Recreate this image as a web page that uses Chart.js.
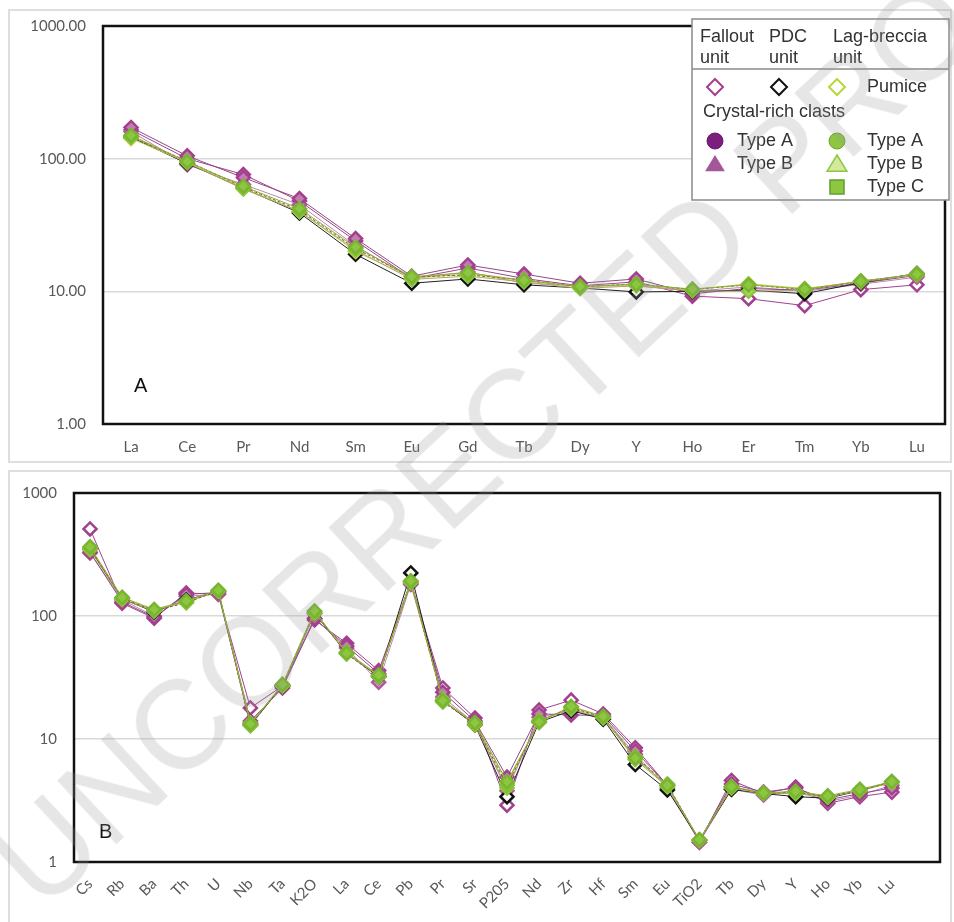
<!DOCTYPE html>
<html>
<head>
<meta charset="utf-8">
<script src="https://cdn.jsdelivr.net/npm/chart.js@4/dist/chart.umd.min.js"></script>
<style>
body { margin:0; background:#fff; width:954px; height:922px; overflow:hidden; position:relative; }
.panel { position:absolute; left:8px; width:940px; border:2px solid #dedede; }
#p1 { top:9px; height:450px; }
#p2 { top:470px; height:470px; }
.box { position:absolute; left:0; width:954px; }
#b1 { top:0; height:465px; }
#b2 { top:465px; height:457px; }
#wm { position:absolute; left:43px; top:807px; white-space:nowrap; font-family:"Liberation Sans", Arial, sans-serif;
      font-size:126px; line-height:126px; color:rgba(150,150,150,0.24); transform-origin:0 107px;
      transform:rotate(-43deg); pointer-events:none; }
</style>
</head>
<body>
<div class="panel" id="p1"></div>
<div class="panel" id="p2"></div>
<div class="box" id="b1"><canvas id="chartA"></canvas></div>
<div class="box" id="b2"><canvas id="chartB"></canvas></div>
<div id="wm">UNCORRECTED PROOF</div>
<script>
// chondrite-normalised REE (panel A)
var reeLabels = ['La','Ce','Pr','Nd','Sm','Eu','Gd','Tb','Dy','Y','Ho','Er','Tm','Yb','Lu'];
var reeFallPumice = [165, 100, 76, 48, 24, 12.5, 15, 12.5, 11, 11.8, 9.2, 8.8, 7.8, 10.3, 11.2];
var reeFallA      = [172, 105, 72, 50, 25, 13, 15.8, 13.5, 11.5, 12.4, 9.6, 10.5, 10.2, 11.5, 13.2];
var reeFallB      = [160, 90, 64, 45, 22, 12.5, 14, 11.5, 11, 11, 10, 10.8, 10, 11.3, 12.8];
var reePdcPumice  = [145, 92, 60, 39, 19, 11.5, 12.4, 11.2, 10.6, 9.9, 10, 10.2, 9.6, 11.6, 13.6];
var reeLagPumice  = [142, 94, 60, 40, 20, 12.6, 13.5, 12, 10.8, 11.2, 10.3, 11.4, 10.5, 11.8, 13.4];
var reeLagA       = [145, 96, 61, 41, 21, 12.8, 13.3, 12.2, 10.8, 11.4, 10.3, 11.2, 10.3, 11.8, 13.6];
var reeLagB       = [148, 93, 59, 40, 20.5, 12.3, 13, 11.8, 10.5, 11, 10.1, 10, 10.2, 12, 13.3];
var reeLagC       = [150, 95, 62, 42, 21.5, 12.9, 13.8, 12.1, 10.9, 11.3, 10.4, 11.2, 10.4, 11.9, 13.5];

// multi-element spider diagram (panel B); last slot is empty
var spLabels = ['Cs','Rb','Ba','Th','U','Nb','Ta','K2O','La','Ce','Pb','Pr','Sr','P205','Nd','Zr','Hf','Sm','Eu','TiO2','Tb','Dy','Y','Ho','Yb','Lu',''];
var spFallPumice = [510, 127, 96, 154, 150, 17.9, 27, 93, 60, 36, 190, 26, 14.8, 2.9, 17.2, 20.7, 16, 8.5, 4.2, 1.45, 4.6, 3.6, 4.07, 3.0, 3.4, 3.7];
var spFallA      = [330, 130, 98, 150, 155, 14, 26, 95, 57, 34, 185, 24, 14, 4.9, 16, 15.7, 15.5, 8, 4.2, 1.5, 4.3, 3.7, 4.0, 3.2, 3.6, 4.0];
var spFallB      = [325, 135, 100, 145, 150, 13.5, 27, 96, 55, 29, 180, 22, 13.3, 3.8, 15, 17, 15, 7.5, 4.0, 1.45, 3.9, 3.5, 3.8, 3.1, 3.5, 4.2];
var spPdcPumice  = [350, 138, 108, 135, 158, 13, 27, 105, 50, 32, 224, 20.5, 13, 3.4, 13.7, 17, 14.5, 6.2, 3.85, 1.5, 3.9, 3.6, 3.4, 3.3, 3.8, 4.5];
var spLagPumice  = [360, 140, 112, 130, 160, 13.2, 27.5, 108, 50, 32.6, 189, 20.4, 13.5, 4.4, 13.7, 18.2, 15.1, 7.0, 4.2, 1.5, 4.07, 3.64, 3.7, 3.4, 3.85, 4.47];
var spLagA       = [355, 140, 110, 128, 160, 12.8, 27.5, 108, 49, 32, 192, 20, 13.2, 4.2, 14, 18, 15, 7.2, 4.3, 1.5, 4.1, 3.6, 3.7, 3.4, 3.8, 4.5];
var spLagB       = [345, 136, 110, 132, 158, 13.5, 27, 105, 51, 33, 186, 21, 13.0, 4.0, 14.2, 17.5, 14.8, 6.8, 4.1, 1.5, 4.0, 3.6, 3.6, 3.35, 3.8, 4.4];
var spLagC       = [365, 142, 113, 133, 162, 13.3, 27.8, 110, 50, 33, 193, 20.5, 13.6, 4.5, 13.8, 18.4, 15.3, 7.0, 4.2, 1.52, 4.1, 3.65, 3.75, 3.45, 3.9, 4.5];

var yTicks = [1, 10, 100, 1000];

var MAG = '#a3408e', PUR = '#7b1f7f', GRN = '#8dc63f', YGR = '#b9d63a';

// first in list is drawn on top
function sets(lagC, lagA, lagB, lagP, pdcP, fallA, fallB, fallP) {
  function ds(data, line, fill, border, dash) {
    return { data: data, borderColor: line, borderWidth: 1, borderDash: dash || [],
      pointStyle: 'rectRot', pointRadius: 6.5, pointBorderWidth: 2.5,
      pointBackgroundColor: fill, pointBorderColor: border, tension: 0 };
  }
  return [
    ds(lagC, '#8fae3c', GRN, '#79b432'),
    ds(lagA, '#6d6a2c', GRN, '#86c03a', [3, 2]),
    ds(lagB, '#b4a46a', '#a9d45a', '#8dc63f'),
    ds(lagP, YGR, '#ffffff', YGR),
    ds(pdcP, '#222222', '#ffffff', '#111111'),
    ds(fallA, '#8c4a84', '#c27cb2', MAG),
    ds(fallB, '#b98ab0', '#d3a4c8', '#b05a9c'),
    ds(fallP, MAG, '#ffffff', MAG)
  ];
}

var frame = {
  id: 'frame',
  beforeDatasetsDraw: function (chart) {
    var a = chart.chartArea, c = chart.ctx;
    c.save();
    c.strokeStyle = '#111';
    c.lineWidth = 2.5;
    c.strokeRect(a.left, a.top, a.right - a.left, a.bottom - a.top);
    var o = chart.options.plugins.frame;
    c.fillStyle = '#111';
    c.font = '20px "Liberation Sans", Arial, sans-serif';
    c.textBaseline = 'middle';
    c.fillText(o.letter, a.left + o.dx, a.bottom - o.dy);
    c.restore();
  }
};

function shape(c, kind, x, y, r, fill, stroke, lw) {
  c.beginPath();
  if (kind === 'diamond') { c.moveTo(x, y - r); c.lineTo(x + r, y); c.lineTo(x, y + r); c.lineTo(x - r, y); c.closePath(); }
  else if (kind === 'circle') c.arc(x, y, r, 0, Math.PI * 2);
  else if (kind === 'triangle') { c.moveTo(x, y - r); c.lineTo(x + r * 1.1, y + r * 0.8); c.lineTo(x - r * 1.1, y + r * 0.8); c.closePath(); }
  else c.rect(x - r, y - r, 2 * r, 2 * r);
  if (fill) { c.fillStyle = fill; c.fill(); }
  if (stroke) { c.strokeStyle = stroke; c.lineWidth = lw; c.stroke(); }
}

var legendBox = {
  id: 'legendBox',
  afterDraw: function (chart) {
    var c = chart.ctx;
    c.save();
    c.fillStyle = '#fff';
    c.fillRect(692, 19, 257, 181);
    c.strokeStyle = '#8a8a8a';
    c.lineWidth = 1.5;
    c.strokeRect(692, 19, 257, 181);
    c.beginPath(); c.moveTo(692, 69); c.lineTo(949, 69); c.stroke();
    c.fillStyle = '#333';
    c.font = '18px "Liberation Sans", Arial, sans-serif';
    c.textBaseline = 'middle';
    c.fillText('Fallout', 700, 37); c.fillText('unit', 700, 58);
    c.fillText('PDC', 769, 37); c.fillText('unit', 769, 58);
    c.fillText('Lag-breccia', 833, 37); c.fillText('unit', 833, 58);
    shape(c, 'diamond', 715, 87, 8, '#fff', MAG, 2);
    shape(c, 'diamond', 779, 87, 8, '#fff', '#111', 2);
    shape(c, 'diamond', 837, 87, 8, '#fff', YGR, 2);
    c.fillStyle = '#333';
    c.fillText('Pumice', 867, 87);
    c.fillText('Crystal-rich clasts', 703, 112);
    shape(c, 'circle', 715, 141, 8, PUR, '#6a1a6c', 1);
    shape(c, 'circle', 837, 141, 8, GRN, '#6fa52c', 1);
    shape(c, 'triangle', 715, 164, 9, '#a3579a', null, 0);
    shape(c, 'triangle', 837, 164, 9, '#d4e89e', GRN, 1.5);
    shape(c, 'square', 837, 187, 7, GRN, '#5e9e2e', 1.5);
    c.fillStyle = '#333';
    c.fillText('Type A', 737, 141); c.fillText('Type A', 867, 141);
    c.fillText('Type B', 737, 164); c.fillText('Type B', 867, 164);
    c.fillText('Type C', 867, 187);
    c.restore();
  }
};

function opts(yw, xh, pad, fmt, rot, xpad, letter, dx, dy) {
  return {
    responsive: true, maintainAspectRatio: false, animation: false,
    layout: { padding: pad },
    plugins: { legend: { display: false }, tooltip: { enabled: false },
      frame: { letter: letter, dx: dx, dy: dy } },
    scales: {
      x: {
        offset: true,
        grid: { display: false, drawTicks: false },
        border: { display: false },
        ticks: { color: '#595959', font: { family: 'Lato', size: 15 }, autoSkip: false,
          minRotation: rot, maxRotation: rot, padding: xpad },
        afterFit: function (s) { s.height = xh; }
      },
      y: {
        type: 'logarithmic', min: 1, max: 1000,
        grid: { color: '#d9d9d9', lineWidth: 1.5, drawTicks: false },
        border: { display: false },
        ticks: { color: '#595959', font: { family: 'Lato', size: 15 }, padding: 17, callback: fmt },
        afterBuildTicks: function (s) { s.ticks = yTicks.map(function (v) { return { value: v }; }); },
        afterFit: function (s) { s.width = yw; }
      }
    }
  };
}

new Chart(document.getElementById('chartA'), {
  type: 'line',
  data: { labels: reeLabels,
    datasets: sets(reeLagC, reeLagA, reeLagB, reeLagPumice, reePdcPumice, reeFallA, reeFallB, reeFallPumice) },
  options: opts(103, 41, { top: 23, right: 9, left: 0, bottom: 0 },
    function (v) { return Number(v).toFixed(2); }, 0, 14, 'A', 31, 38),
  plugins: [frame, legendBox]
});

new Chart(document.getElementById('chartB'), {
  type: 'line',
  data: { labels: spLabels,
    datasets: sets(spLagC, spLagA, spLagB, spLagPumice, spPdcPumice, spFallA, spFallB, spFallPumice) },
  options: opts(74, 60, { top: 28, right: 14, left: 0, bottom: 0 },
    function (v) { return String(v); }, 45, 13, 'B', 25, 30),
  plugins: [frame]
});
</script>
</body>
</html>
